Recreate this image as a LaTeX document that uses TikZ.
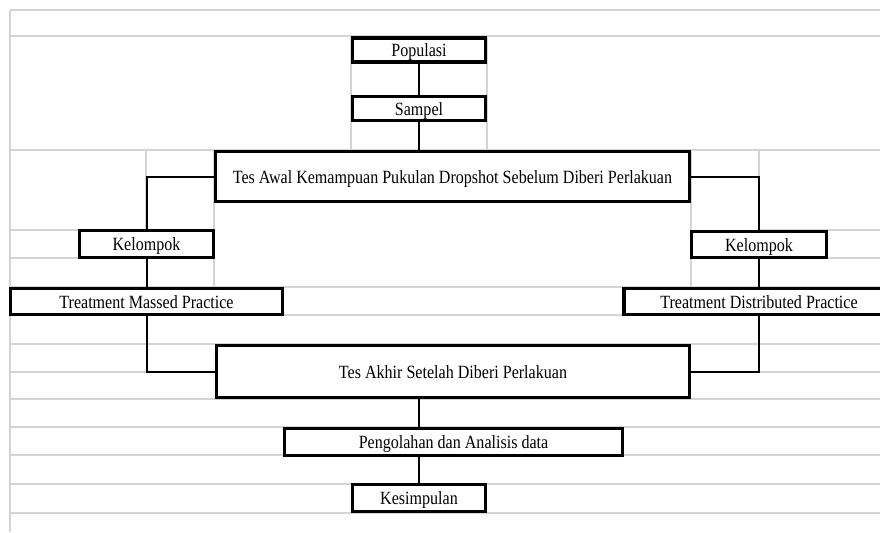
\documentclass[tikz,border=0pt]{standalone}
\usepackage{fontspec}
\setmainfont{Liberation Serif}[FakeStretch=0.86]
\usetikzlibrary{positioning, calc}
\definecolor{cgrid}{HTML}{D4D4D4}
\tikzset{
  every picture/.style={font=\fontsize{14}{16}\selectfont, x=0.75pt, y=-0.75pt},
  box/.style 2 args={draw, fill=white, line width=2.5pt, inner sep=0pt, align=center,
    text height=11pt, text depth=1.2pt,
    minimum width=#1*0.75pt, minimum height=#2*0.75pt},
  link/.style={draw, line width=1.5pt},
  grid/.style={draw=cgrid, line width=1.5pt},
}
\begin{document}
\begin{tikzpicture}
  \clip (0,0) rectangle (880,532);
  \fill[white] (0,0) rectangle (880,532);
  % sheet grid behind the chart
  \foreach \y in {10, 36, 150, 287, 315, 344, 372, 399, 427, 455, 484, 513}
    \draw[grid] (10,\y) -- (880,\y);
  \foreach \y in {230, 258} {
    \draw[grid] (10,\y) -- (146,\y);
    \draw[grid] (759,\y) -- (880,\y);
  }
  \draw[grid] (10,10) -- (10,532);
  \foreach \x in {351, 487}
    \draw[grid] (\x,36) -- (\x,150);
  \foreach \x in {146, 759}
    \draw[grid] (\x,150) -- (\x,230);
  \foreach \x in {214, 691}
    \draw[grid] (\x,150) -- (\x,287);

  \node[box={133}{24}] (pop) at (419, 50) {Populasi};
  \node[box={133}{24}] (sam) at (419, 108.5) {Sampel};
  \node[box={474}{50}] (awal) at (452.5, 176.5) {Tes Awal Kemampuan Pukulan Dropshot Sebelum Diberi Perlakuan};
  \node[box={134}{27}] (kel1) at (146.5, 244) {Kelompok};
  \node[box={135}{26}] (kel2) at (759, 244.5) {Kelompok};
  \node[box={272}{26}] (tmp) at (146.5, 301.5) {Treatment Massed Practice};
  \node[box={270}{26}] (tdp) at (759, 301.5) {Treatment Distributed Practice};
  \node[box={473}{52}] (akhir) at (453, 371.5) {Tes Akhir Setelah Diberi Perlakuan};
  \node[box={338}{27}] (olah) at (453.5, 442) {Pengolahan dan Analisis data};
  \node[box={133}{27}] (kes) at (419, 498) {Kesimpulan};

  \draw[link] (pop) -- (sam);
  \draw[link] (sam.south) -- (sam.south |- awal.north);
  \draw[link] (awal.west) -| (kel1.north);
  \draw[link] (awal.east) -| (kel2.north);
  \draw[link] (kel1) -- (tmp);
  \draw[link] (kel2) -- (tdp);
  \draw[link] (tmp.south) |- (akhir.west);
  \draw[link] (tdp.south) |- (akhir.east);
  \draw[link] (kes.north |- akhir.south) -- (kes.north |- olah.north);
  \draw[link] (kes.north |- olah.south) -- (kes.north);
\end{tikzpicture}
\end{document}
